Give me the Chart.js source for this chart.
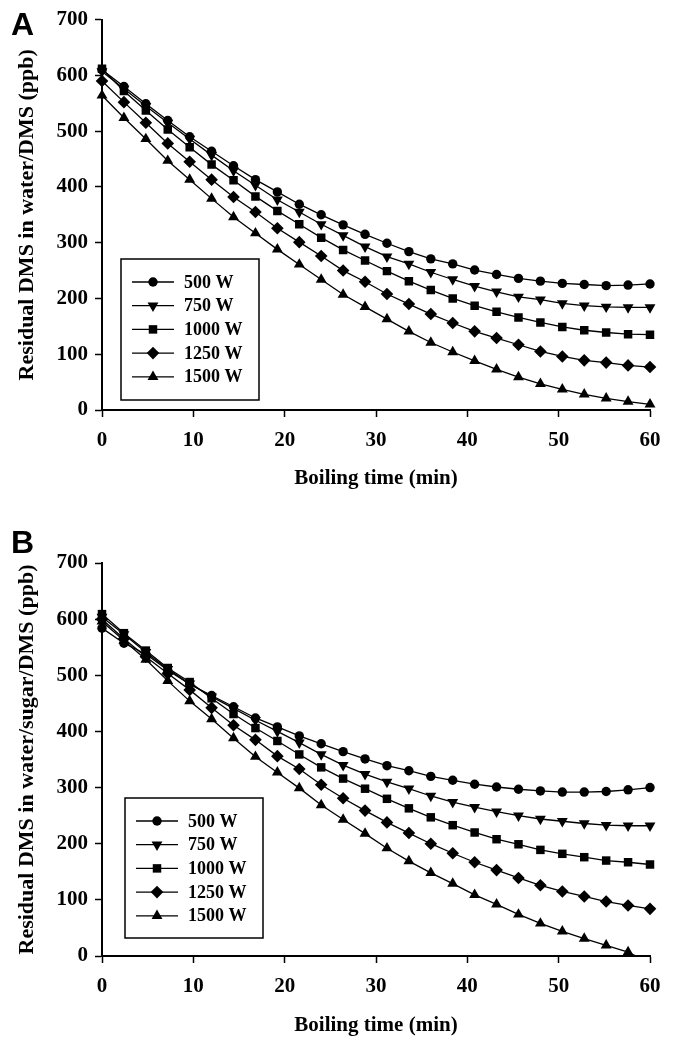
<!DOCTYPE html>
<html>
<head>
<meta charset="utf-8">
<script src="https://cdn.jsdelivr.net/npm/chart.js"></script>
<style>
  body { margin: 0; background: #fff; }
  .panel { position: absolute; left: 0; width: 678px; height: 520px; }
  .tag { position: absolute; left: 11px; font: bold 32px 'Liberation Sans', Arial, sans-serif; line-height: 32px; color: #000; }
</style>
</head>
<body>
<div class="panel" style="top:0"><canvas id="js-chart-a" width="678" height="520"></canvas></div>
<div class="panel" style="top:520px"><canvas id="js-chart-b" width="678" height="520"></canvas></div>
<div class="tag" style="top:8px">A</div>
<div class="tag" style="top:526px">B</div>
<script>
const boilTimes = [0, 2.4, 4.8, 7.2, 9.6, 12, 14.4, 16.8, 19.2, 21.6, 24, 26.4, 28.8, 31.2, 33.6, 36, 38.4, 40.8, 43.2, 45.6, 48, 50.4, 52.8, 55.2, 57.6, 60];
const powerLabels = ['500 W', '750 W', '1000 W', '1250 W', '1500 W'];

// A: water/DMS
const w500A = [610, 580, 549, 519, 490, 464, 438, 413, 391, 369, 350, 332, 315, 299, 284, 271, 262, 251, 243, 236, 231, 227, 225, 223, 224, 226];
const w750A = [607, 576, 545, 515, 486, 457, 429, 403, 377, 355, 333, 313, 293, 275, 262, 247, 234, 222, 212, 203, 198, 191, 187, 185, 184, 184];
const w1000A = [612, 572, 537, 503, 471, 440, 412, 383, 357, 333, 309, 287, 268, 249, 231, 215, 200, 187, 176, 166, 157, 149, 143, 139, 136, 135];
const w1250A = [590, 552, 515, 478, 445, 413, 382, 355, 326, 301, 276, 250, 230, 208, 190, 172, 156, 141, 129, 117, 105, 96, 89, 85, 80, 77];
const w1500A = [564, 524, 486, 447, 413, 379, 346, 317, 288, 261, 234, 207, 185, 163, 141, 121, 104, 88, 73, 59, 47, 37, 28, 21, 15, 10];

// B: water/sugar/DMS
const w500B = [584, 557, 538, 509, 484, 464, 444, 424, 408, 392, 378, 364, 351, 339, 330, 320, 313, 306, 301, 297, 294, 292, 292, 293, 296, 300];
const w750B = [604, 573, 541, 511, 485, 462, 441, 420, 400, 380, 359, 340, 324, 310, 298, 285, 274, 265, 257, 250, 244, 240, 236, 233, 232, 232];
const w1000B = [609, 575, 544, 513, 488, 459, 431, 406, 383, 359, 336, 316, 298, 280, 263, 247, 233, 220, 208, 199, 189, 182, 176, 170, 167, 163];
const w1250B = [600, 565, 533, 503, 474, 442, 411, 385, 356, 333, 305, 281, 259, 238, 219, 200, 183, 167, 153, 139, 126, 115, 106, 97, 90, 84];
const w1500B = [596, 562, 528, 490, 454, 422, 388, 355, 327, 299, 269, 243, 218, 192, 169, 148, 129, 109, 92, 74, 58, 44, 31, 19, 7, -13];

const yTicks = [0, 100, 200, 300, 400, 500, 600, 700];
const xTicks = [0, 10, 20, 30, 40, 50, 60];

const markers = [
  { pointStyle: 'circle', pointRadius: 4.7, pointRotation: 0 },
  { pointStyle: 'triangle', pointRadius: 6.3, pointRotation: 180 },
  { pointStyle: 'rect', pointRadius: 6.0, pointRotation: 0 },
  { pointStyle: 'rectRot', pointRadius: 6.3, pointRotation: 0 },
  { pointStyle: 'triangle', pointRadius: 6.3, pointRotation: 0 },
];

const serif = "'Liberation Serif', 'Times New Roman', serif";

// legend drawn as a framed box inside the plot
const boxLegend = {
  id: 'boxLegend',
  afterDatasetsDraw(chart, args, opts) {
    const ctx = chart.ctx;
    ctx.save();
    ctx.fillStyle = '#fff';
    ctx.fillRect(opts.x, opts.y, opts.w, opts.h);
    ctx.strokeStyle = '#000';
    ctx.lineWidth = 1.5;
    ctx.strokeRect(opts.x, opts.y, opts.w, opts.h);
    ctx.font = 'bold 18px ' + serif;
    ctx.textBaseline = 'middle';
    chart.data.datasets.forEach((ds, i) => {
      const cy = opts.y + opts.first + i * opts.step;
      ctx.beginPath();
      ctx.lineWidth = 1.3;
      ctx.moveTo(opts.x + 11, cy);
      ctx.lineTo(opts.x + 53, cy);
      ctx.stroke();
      ctx.fillStyle = '#000';
      Chart.helpers.drawPoint(ctx, {
        pointStyle: ds.pointStyle,
        radius: ds.pointRadius,
        rotation: ds.pointRotation,
        borderWidth: 0
      }, opts.x + 32, cy);
      ctx.fillText(ds.label, opts.x + 63, cy + 1);
    });
    ctx.restore();
  }
};

function makeChart(canvas, yTitle, series, layout) {
  const datasets = series.map((values, i) => ({
    label: powerLabels[i],
    data: values.map((v, j) => ({ x: boilTimes[j], y: v })),
    borderColor: '#000',
    backgroundColor: '#000',
    borderWidth: 1.3,
    pointBackgroundColor: '#000',
    pointBorderWidth: 0,
    pointHoverRadius: markers[i].pointRadius,
    clip: { left: 10, top: 10, right: 10, bottom: 0 },
    ...markers[i]
  }));

  return new Chart(canvas, {
    type: 'line',
    data: { datasets },
    plugins: [boxLegend],
    options: {
      responsive: false,
      animation: false,
      layout: { padding: { left: 0, right: 28, top: layout.top, bottom: 0 } },
      scales: {
        x: {
          type: 'linear',
          min: 0,
          max: 60,
          afterFit: (scale) => { scale.height = layout.xHeight; },
          afterBuildTicks: (scale) => { scale.ticks = xTicks.map(v => ({ value: v })); },
          grid: { drawOnChartArea: false, tickLength: 7, tickWidth: 1.5, tickColor: '#000' },
          border: { color: '#000', width: 2 },
          ticks: { color: '#000', padding: 11, maxRotation: 0, font: { family: serif, size: 21, weight: 'bold' } },
          title: {
            display: true,
            text: 'Boiling time (min)',
            color: '#000',
            padding: { top: 0, bottom: layout.titleBottom },
            font: { family: serif, size: 21, weight: 'bold' }
          }
        },
        y: {
          min: 0,
          max: 700,
          afterFit: (scale) => { scale.width = 102; },
          afterBuildTicks: (scale) => { scale.ticks = yTicks.map(v => ({ value: v })); },
          grid: { drawOnChartArea: false, tickLength: 7, tickWidth: 1.5, tickColor: '#000' },
          border: { color: '#000', width: 2 },
          ticks: { color: '#000', padding: 7, font: { family: serif, size: 21, weight: 'bold' } },
          title: {
            display: true,
            text: yTitle,
            color: '#000',
            padding: { top: 14, bottom: 0 },
            font: { family: serif, size: 22, weight: 'bold' }
          }
        }
      },
      plugins: {
        legend: { display: false },
        tooltip: { enabled: false },
        boxLegend: layout.legend
      }
    }
  });
}

makeChart(document.querySelector('#js-chart-a'), 'Residual DMS in water/DMS (ppb)',
  [w500A, w750A, w1000A, w1250A, w1500A],
  { top: 16, xHeight: 110, titleBottom: 29, legend: { x: 121, y: 259, w: 138, h: 141, first: 23, step: 23.7 } });

makeChart(document.querySelector('#js-chart-b'), 'Residual DMS in water/sugar/DMS (ppb)',
  [w500B, w750B, w1000B, w1250B, w1500B],
  { top: 43, xHeight: 84, titleBottom: 2, legend: { x: 125, y: 278, w: 138, h: 140, first: 23, step: 23.7 } });
</script>
</body>
</html>
